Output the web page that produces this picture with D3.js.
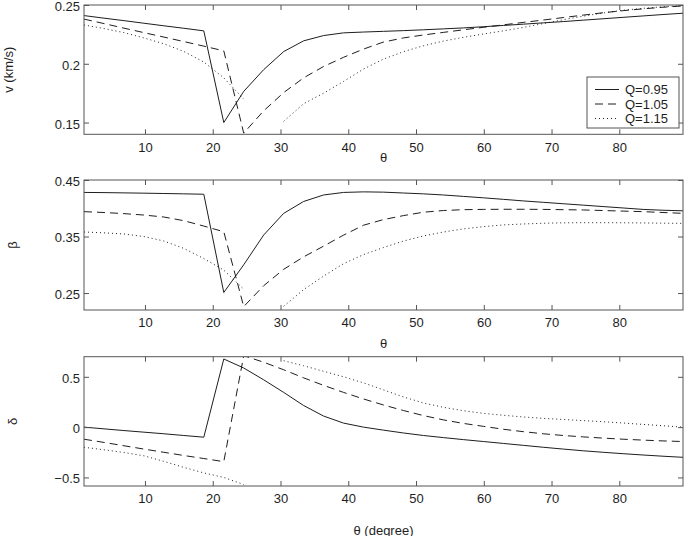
<!DOCTYPE html>
<html><head><meta charset="utf-8">
<script src="https://cdn.jsdelivr.net/npm/d3@7"></script>
<style>body{margin:0;background:#fff}svg{display:block}text{font-family:"Liberation Sans",Arial,Helvetica,sans-serif}</style>
</head><body>
<svg id="chart" width="685" height="536"></svg>
<script>
const theta = [1, 3.95, 6.89, 9.84, 12.79, 15.73, 18.68, 21.63, 24.57, 27.52, 30.47, 33.41, 36.36, 39.31, 42.25, 45.2, 48.15, 51.09, 54.04, 56.99, 59.93, 62.88, 65.83, 68.77, 71.72, 74.67, 77.61, 80.56, 83.51, 86.45, 89.4];

const vQ095 = [0.241, 0.2388, 0.2367, 0.2345, 0.2323, 0.2302, 0.228, 0.150, 0.1765, 0.195, 0.2104, 0.2195, 0.224, 0.2263, 0.227, 0.2276, 0.2282, 0.2289, 0.2297, 0.2305, 0.2315, 0.2326, 0.2337, 0.2348, 0.2359, 0.2371, 0.2383, 0.2395, 0.2407, 0.2419, 0.243];
const vQ105 = [0.238, 0.2342, 0.2303, 0.2265, 0.2227, 0.2189, 0.215, 0.211, 0.141, 0.160, 0.1755, 0.188, 0.1977, 0.2055, 0.2125, 0.2185, 0.222, 0.2245, 0.2267, 0.2289, 0.231, 0.2331, 0.2352, 0.2372, 0.2393, 0.2414, 0.2434, 0.2452, 0.2467, 0.2481, 0.2492];
const vQ115 = [0.233, 0.230, 0.2265, 0.222, 0.217, 0.2105, 0.2015, 0.188, 0.170, null, 0.151, 0.166, 0.175, 0.185, 0.1955, 0.204, 0.2103, 0.2153, 0.2193, 0.2225, 0.2253, 0.228, 0.2309, 0.2342, 0.2375, 0.2405, 0.2432, 0.2455, 0.2472, 0.2485, 0.2495];

const bQ095 = [0.428, 0.4277, 0.4272, 0.4267, 0.4261, 0.4255, 0.4248, 0.251, 0.300, 0.3527, 0.391, 0.412, 0.4235, 0.428, 0.429, 0.4285, 0.427, 0.4255, 0.4235, 0.421, 0.4185, 0.4158, 0.413, 0.4105, 0.408, 0.4055, 0.403, 0.4005, 0.398, 0.3965, 0.3955];
const bQ105 = [0.394, 0.3925, 0.3905, 0.388, 0.3845, 0.378, 0.3685, 0.3585, 0.226, 0.263, 0.292, 0.314, 0.333, 0.3525, 0.370, 0.380, 0.387, 0.393, 0.396, 0.3975, 0.398, 0.3982, 0.3982, 0.398, 0.3975, 0.397, 0.396, 0.395, 0.394, 0.3925, 0.391];
const bQ115 = [0.358, 0.3565, 0.3545, 0.350, 0.342, 0.329, 0.311, 0.2905, 0.257, null, 0.2265, 0.256, 0.280, 0.302, 0.318, 0.3305, 0.342, 0.351, 0.358, 0.3635, 0.3675, 0.3705, 0.3722, 0.3735, 0.3742, 0.3745, 0.3745, 0.3743, 0.374, 0.3736, 0.3733];

const dQ095 = [0.0, -0.017, -0.034, -0.05, -0.066, -0.083, -0.10, 0.677, 0.588, 0.47, 0.345, 0.215, 0.11, 0.04, 0.0, -0.03, -0.058, -0.083, -0.104, -0.124, -0.143, -0.162, -0.181, -0.2, -0.218, -0.235, -0.25, -0.264, -0.277, -0.289, -0.30];
const dQ105 = [-0.12, -0.152, -0.185, -0.218, -0.25, -0.282, -0.312, -0.343, 0.71, 0.645, 0.57, 0.49, 0.415, 0.345, 0.28, 0.22, 0.165, 0.115, 0.072, 0.037, 0.008, -0.021, -0.045, -0.066, -0.083, -0.097, -0.109, -0.12, -0.129, -0.137, -0.143];
const dQ115 = [-0.20, -0.225, -0.252, -0.285, -0.34, -0.40, -0.455, -0.50, -0.57, null, 0.66, 0.61, 0.555, 0.50, 0.44, 0.37, 0.30, 0.24, 0.197, 0.163, 0.137, 0.118, 0.101, 0.087, 0.076, 0.065, 0.054, 0.041, 0.027, 0.014, 0.0];

const seriesNames = ["Q=0.95", "Q=1.05", "Q=1.15"];
const xTicks = [10, 20, 30, 40, 50, 60, 70, 80];
const vTicks = [0.15, 0.2, 0.25];
const bTicks = [0.25, 0.35, 0.45];
const dTicks = [-0.5, 0, 0.5];
const vTickLabels = ["0.15", "0.2", "0.25"];
const bTickLabels = ["0.25", "0.35", "0.45"];
const dTickLabels = ["\u22120.5", "0", "0.5"];

const dashes = [null, "8,5", "1,3"];
const ink = "#1e1e1e";
const axisCol = "#555";

const svg = d3.select("#chart");
const L = 84, R = 683;
const x = d3.scaleLinear().domain([1, 89.4]).range([L, R]);

const panels = [
  {top: 5, bottom: 134.3, domain: [0.14, 0.25], ticks: vTicks, labels: vTickLabels, data: [vQ095, vQ105, vQ115], ylab: "v (km/s)", ylabX: 8, xlab: "\u03b8", xlabY: 157, legend: true},
  {top: 180, bottom: 310, domain: [0.22, 0.45], ticks: bTicks, labels: bTickLabels, data: [bQ095, bQ105, bQ115], ylab: "\u03b2", ylabX: 12, xlab: "\u03b8", xlabY: 343},
  {top: 356.7, bottom: 486, domain: [-0.585, 0.7], ticks: dTicks, labels: dTickLabels, data: [dQ095, dQ105, dQ115], ylab: "\u03b4", ylabX: 12, xlab: "\u03b8 (degree)", xlabY: 530}
];

panels.forEach((p, i) => {
  const y = d3.scaleLinear().domain(p.domain).range([p.bottom, p.top]);
  const g = svg.append("g");
  const cid = "clip" + i;
  svg.append("clipPath").attr("id", cid).append("rect")
    .attr("x", L).attr("y", p.top).attr("width", R - L).attr("height", p.bottom - p.top);

  const line = d3.line().defined(d => d !== null).x((d, j) => x(theta[j])).y(d => y(d));
  p.data.forEach((s, k) => {
    g.append("path").datum(s).attr("d", line).attr("fill", "none")
      .attr("stroke", ink).attr("stroke-width", 1)
      .attr("stroke-dasharray", dashes[k]).attr("clip-path", `url(#${cid})`);
  });

  const fmt = (d) => p.labels[p.ticks.indexOf(d)];
  const ax = (gen, tx, ty, showLabels) => {
    const a = svg.append("g").attr("transform", `translate(${tx},${ty})`).call(gen);
    a.select(".domain").remove();
    a.selectAll(".tick line").attr("stroke", axisCol);
    a.selectAll("text").attr("fill", ink).style("font-size", "13px").style("font-family", '"Liberation Sans",Arial,Helvetica,sans-serif');
    if (!showLabels) a.selectAll("text").remove();
    return a;
  };
  ax(d3.axisBottom(x).tickValues(xTicks).tickSizeInner(-5).tickSizeOuter(0).tickPadding(8).tickFormat(d3.format("d")), 0, p.bottom, true);
  ax(d3.axisTop(x).tickValues(xTicks).tickSizeInner(-5).tickSizeOuter(0), 0, p.top, false);
  const yl = ax(d3.axisLeft(y).tickValues(p.ticks).tickSizeInner(-5).tickSizeOuter(0).tickPadding(4).tickFormat(fmt), L, 0, true);
  yl.selectAll("text").attr("dy", "0.42em");
  ax(d3.axisRight(y).tickValues(p.ticks).tickSizeInner(-5).tickSizeOuter(0), R, 0, false);

  svg.append("rect").attr("x", L).attr("y", p.top).attr("width", R - L).attr("height", p.bottom - p.top)
    .attr("fill", "none").attr("stroke", axisCol).attr("stroke-width", 1);

  svg.append("text").attr("x", (L + R) / 2).attr("y", p.xlabY).attr("text-anchor", "middle")
    .attr("dominant-baseline", "central").attr("fill", ink).style("font-size", "13px").text(p.xlab);
  const cy = (p.top + p.bottom) / 2;
  svg.append("text").attr("transform", `translate(${p.ylabX},${cy}) rotate(-90)`).attr("text-anchor", "middle")
    .attr("dominant-baseline", "central").attr("fill", ink).style("font-size", "13px").text(p.ylab);

  if (p.legend) {
    const lg = svg.append("g");
    lg.append("rect").attr("x", 587).attr("y", 77).attr("width", 92).attr("height", 51)
      .attr("fill", "#fff").attr("stroke", axisCol);
    seriesNames.forEach((n, k) => {
      const yy = 89.5 + k * 14.5;
      lg.append("line").attr("x1", 595).attr("x2", 619).attr("y1", yy).attr("y2", yy)
        .attr("stroke", ink).attr("stroke-dasharray", dashes[k]);
      lg.append("text").attr("x", 625).attr("y", yy).attr("dominant-baseline", "central")
        .attr("fill", ink).style("font-size", "13px").text(n);
    });
  }
});
</script>
</body></html>
